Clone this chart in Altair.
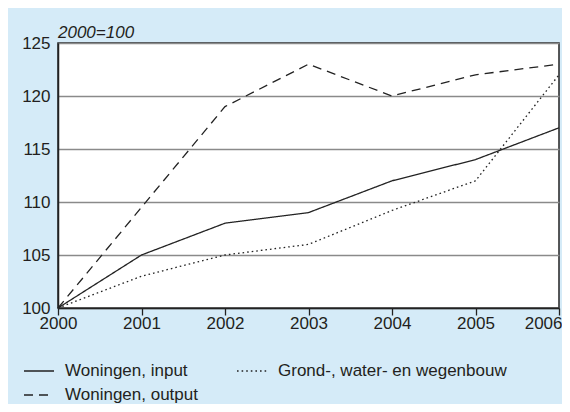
import altair as alt
import pandas as pd

years = [2000, 2001, 2002, 2003, 2004, 2005, 2006]
input_vals = [100, 105, 108, 109, 112, 114, 117]
output_vals = [100, 109.5, 119, 123, 120, 122, 123]
grond_vals = [100, 103, 105, 106, 109.2, 112, 122]

s_input = "Woningen, input"
s_grond = "Grond-, water- en wegenbouw"
s_output = "Woningen, output"
# legend fills column by column: input, output in column 1; grond in column 2
series_order = [s_input, s_output, s_grond]

rows = []
for name, vals in [(s_input, input_vals), (s_output, output_vals), (s_grond, grond_vals)]:
    for y, v in zip(years, vals):
        rows.append({"jaar": y, "index": v, "reeks": name})
df = pd.DataFrame(rows)

FONT = "Liberation Sans"
TXT = "#231f20"

chart = alt.Chart(df).mark_line(strokeWidth=1.3, color="#222222", strokeCap="butt").encode(
    x=alt.X("jaar:Q",
            scale=alt.Scale(domain=[2000, 2006], nice=False, zero=False),
            axis=alt.Axis(values=years, format="d", title=None, grid=False,
                          ticks=True, tickSize=7, tickColor="#222222", tickWidth=1.3,
                          domainColor="#222222", domainWidth=1.5,
                          labelPadding=0, labelFontSize=17, labelFont=FONT,
                          labelColor=TXT, labelFlush=False,
                          labelAlign={"expr": "datum.value == 2006 ? 'right' : 'center'"},
                          labelOffset={"expr": "datum.value == 2006 ? 3 : 0"})),
    y=alt.Y("index:Q",
            scale=alt.Scale(domain=[100, 125], nice=False, zero=False),
            axis=alt.Axis(values=[100, 105, 110, 115, 120, 125], title=None,
                          grid=True, gridColor="#8a8a8a", gridWidth=1.3,
                          ticks=False, domainColor="#222222", domainWidth=1.5,
                          labelPadding=8, labelFontSize=17, labelFont=FONT,
                          labelColor=TXT)),
    strokeDash=alt.StrokeDash("reeks:N",
        scale=alt.Scale(domain=series_order, range=[[1, 0], [9, 6], [1.6, 3]]),
        sort=series_order,
        legend=alt.Legend(title=None, orient="none", legendX=-35, legendY=312,
                          columns=2, columnPadding=36, rowPadding=-6,
                          symbolType="stroke", symbolSize=900,
                          symbolStrokeColor="#222222", symbolStrokeWidth=1.3,
                          labelFontSize=17, labelFont=FONT, labelColor=TXT,
                          labelOffset=10, labelLimit=400)),
).properties(
    width=501, height=265,
    title=alt.TitleParams("2000=100", anchor="start", frame="group", fontSize=17,
                          fontStyle="italic", fontWeight="normal", font=FONT,
                          color=TXT, offset=-8),
    autosize=alt.AutoSizeParams(type="none"),
    padding={"left": 50, "top": 35, "right": 3, "bottom": 96},
).configure(
    background="#d5ebf8",
).configure_view(
    fill="white", stroke="#222222", strokeWidth=1.5,
)

chart.save("out.html", embed_options={"renderer": "svg", "actions": False})
